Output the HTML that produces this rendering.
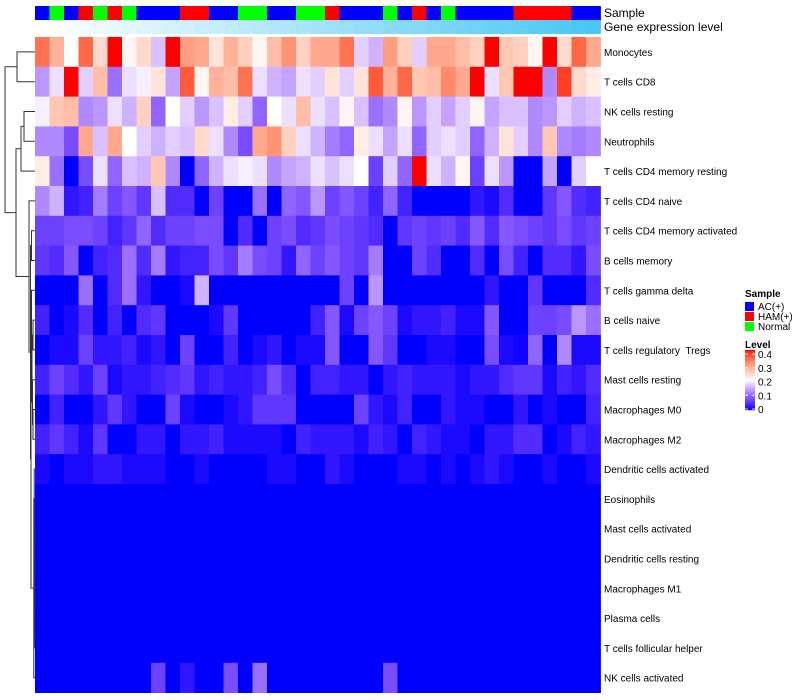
<!DOCTYPE html>
<html><head><meta charset="utf-8">
<style>
html,body{margin:0;padding:0;background:#fff;}
svg{display:block;font-family:"Liberation Sans",Arial,sans-serif;}
text{white-space:pre;}
</style></head>
<body>
<svg id="chart" width="800" height="700" viewBox="0 0 800 700"></svg>
<script>
const rowNames = ["Monocytes","T cells CD8","NK cells resting","Neutrophils","T cells CD4 memory resting","T cells CD4 naive","T cells CD4 memory activated","B cells memory","T cells gamma delta","B cells naive","T cells regulatory  Tregs","Mast cells resting","Macrophages M0","Macrophages M2","Dendritic cells activated","Eosinophils","Mast cells activated","Dendritic cells resting","Macrophages M1","Plasma cells","T cells follicular helper","NK cells activated"];
const sampleGroups = ["A","N","A","H","N","H","N","A","A","A","H","H","A","A","N","N","A","A","N","N","H","A","A","A","N","A","H","A","N","A","A","A","A","H","H","H","H","A","A"];
const z39 = new Array(39).fill(0);
const r0 = [0.34,0.28,0.2,0.35,0.24,0.4,0.21,0.24,0.16,0.4,0.3,0.29,0.23,0.28,0.25,0.21,0.27,0.31,0.25,0.29, 0.29,0.34,0.17,0.15,0.3,0.25,0.17,0.29,0.29,0.27,0.25,0.4,0.26,0.25,0.21,0.4,0.24,0.35,0.29];
const r1 = [0.13,0.18,0.4,0.17,0.27,0.1,0.18,0.19,0.23,0.14,0.36,0.21,0.28,0.27,0.34,0.18,0.15,0.14,0.18,0.17, 0.23,0.17,0.23,0.36,0.28,0.35,0.26,0.27,0.32,0.29,0.4,0.18,0.26,0.4,0.4,0.12,0.38,0.24,0.22];
const r2 = [0.19,0.26,0.27,0.12,0.13,0.18,0.15,0.25,0.09,0.2,0.17,0.13,0.16,0.22,0.17,0.09,0.2,0.18,0.27,0.18, 0.16,0.21,0.16,0.1,0.12,0.21,0.13,0.17,0.14,0.17,0.21,0.14,0.16,0.16,0.12,0.13,0.17,0.15,0.16];
const r3 = [0.12,0.12,0.07,0.29,0.16,0.29,0.2,0.17,0.15,0.17,0.16,0.24,0.18,0.12,0.07,0.29,0.31,0.25,0.18,0.15, 0.11,0.09,0.22,0.18,0.14,0.18,0.09,0.17,0.18,0.17,0.09,0.15,0.23,0.17,0.12,0.26,0.12,0.11,0.12];
const r4 = [0.22,0.1,0,0.07,0.18,0.09,0.16,0.15,0.26,0.12,0,0.09,0.15,0.18,0.19,0.18,0.12,0.14,0.15,0.18, 0.16,0.18,0.2,0.06,0.17,0.09,0.4,0.18,0.15,0.21,0.06,0.18,0.13,0,0,0.14,0,0.17,0.2];
const r5 = [0.12,0.15,0.02,0.03,0.11,0.06,0.08,0.05,0.16,0.04,0.04,0,0.06,0,0,0.1,0,0.09,0.08,0.13, 0.06,0.08,0.06,0.03,0.09,0.03,0,0,0,0,0.02,0.01,0.04,0,0,0.05,0.08,0.04,0.03];
const r6 = [0.06,0.06,0.07,0.07,0.06,0.03,0.05,0.09,0.04,0.06,0.06,0.07,0.07,0,0.04,0,0.06,0.07,0.04,0.05, 0.07,0.06,0.05,0.04,0,0.05,0.06,0.05,0.06,0.04,0.08,0.04,0.08,0.07,0.06,0.05,0.07,0.05,0.06];
const r7 = [0.05,0.04,0.08,0,0.03,0.04,0.1,0.04,0.11,0.02,0.03,0.03,0.07,0.05,0.11,0.07,0.06,0.02,0.09,0.06, 0.08,0.06,0.05,0.11,0,0,0.06,0.04,0,0,0.04,0,0.07,0.03,0,0.04,0.04,0.02,0.07];
const r8 = [0,0,0,0.1,0,0.04,0.1,0.02,0,0,0.01,0.15,0,0,0,0,0,0,0,0, 0,0.06,0,0.13,0,0,0,0,0,0,0,0.02,0,0,0.05,0,0,0,0.04];
const r9 = [0.03,0,0.01,0.04,0,0.03,0,0.04,0.05,0,0,0,0.01,0.05,0,0,0,0,0,0.03, 0.08,0.01,0.06,0.08,0.06,0.01,0.02,0.02,0.03,0.01,0.01,0.08,0,0,0.06,0.06,0.07,0.13,0.1];
const r10 = [0,0.01,0.01,0.06,0.02,0.02,0.03,0.01,0.02,0,0.06,0,0,0.03,0,0.01,0.02,0,0.01,0.01, 0.08,0,0,0.08,0.05,0,0,0.01,0.01,0,0,0.07,0.01,0.005,0.09,0,0.12,0.01,0.01];
const r11 = [0.03,0.06,0.04,0.02,0.06,0.01,0.02,0.02,0.03,0.04,0.05,0.02,0.03,0.02,0.02,0.03,0.07,0.04,0,0.03, 0.03,0.02,0.02,0,0.02,0.03,0.02,0.02,0.02,0.01,0.02,0.02,0.04,0.05,0.05,0.01,0.03,0.02,0.04];
const r12 = [0,0.03,0,0,0.02,0.05,0.02,0,0,0.06,0.01,0,0,0.01,0.02,0.05,0.05,0.05,0,0, 0,0,0.06,0.02,0.01,0.03,0,0,0.02,0.01,0.01,0,0,0.02,0,0.01,0,0,0.03];
const r13 = [0.03,0.05,0.03,0.01,0.05,0,0,0.02,0.02,0,0.02,0.02,0.03,0.01,0.01,0.01,0.01,0,0.03,0.02, 0.02,0.02,0.01,0.03,0.02,0,0.03,0.02,0.01,0.01,0,0.02,0.02,0.04,0.04,0,0.01,0.03,0.02];
const r14 = [0.01,0,0.01,0.01,0.02,0.02,0.01,0.01,0.01,0,0,0.01,0,0,0,0,0.01,0.01,0,0, 0.02,0.01,0,0,0,0.01,0.01,0,0.01,0,0.01,0.02,0.01,0,0,0.01,0,0,0.01];
const r21 = [0,0,0,0,0,0,0,0,0.06,0,0.02,0,0,0.07,0,0.1,0,0,0,0,0,0,0,0,0.07,0,0,0,0,0,0,0,0,0,0,0,0,0,0];
const values = [r0,r1,r2,r3,r4,r5,r6,r7,r8,r9,r10,r11,r12,r13,r14,z39,z39,z39,z39,z39,z39,r21];
const legendTicks = [0,0.1,0.2,0.3,0.4];

const NS="http://www.w3.org/2000/svg";
const svg=document.getElementById('chart');
function mk(tag,attrs,parent){const e=document.createElementNS(NS,tag);for(const k in attrs)e.setAttribute(k,attrs[k]);(parent||svg).appendChild(e);return e;}

function s2l(c){c/=255;return c<=0.04045?c/12.92:Math.pow((c+0.055)/1.055,2.4);}
function l2s(c){c=c<=0.0031308?12.92*c:1.055*Math.pow(c,1/2.4)-0.055;return Math.max(0,Math.min(255,Math.round(c*255)));}
function toLab(r,g,b){r=s2l(r);g=s2l(g);b=s2l(b);
 let X=(0.4124*r+0.3576*g+0.1805*b)/0.95047,Y=0.2126*r+0.7152*g+0.0722*b,Z=(0.0193*r+0.1192*g+0.9505*b)/1.08883;
 const f=t=>t>0.008856?Math.cbrt(t):7.787*t+16/116;
 return [116*f(Y)-16,500*(f(X)-f(Y)),200*(f(Y)-f(Z))];}
function fromLab(L,a,b){const fy=(L+16)/116,fx=fy+a/500,fz=fy-b/200;
 const fi=t=>t*t*t>0.008856?t*t*t:(t-16/116)/7.787;
 const X=fi(fx)*0.95047,Y=fi(fy),Z=fi(fz)*1.08883;
 const r=3.2406*X-1.5372*Y-0.4986*Z,g=-0.9689*X+1.8758*Y+0.0415*Z,bb=0.0557*X-0.2040*Y+1.0570*Z;
 return `rgb(${l2s(r)},${l2s(g)},${l2s(bb)})`;}
const LB=toLab(0,0,255),LW=toLab(255,255,255),LR=toLab(255,0,0);
function color(v){v=Math.max(0,Math.min(0.4,v));let a,b,t;
 if(v<=0.2){a=LB;b=LW;t=Math.pow(v/0.2,1.4);}else{a=LW;b=LR;t=(v-0.2)/0.2;}
 return fromLab(a[0]+(b[0]-a[0])*t,a[1]+(b[1]-a[1])*t,a[2]+(b[2]-a[2])*t);}

const x0=35,cw=14.5,y0=37,ch=29.8;
const xPos=j=>x0+j*cw, yPos=i=>y0+i*ch;
const grpCol={A:"#0000FF",H:"#FF0000",N:"#00FF00"};

sampleGroups.forEach((g,j)=>{
 const r=mk('rect',{x:xPos(j),y:6,width:cw+0.4,height:14,fill:grpCol[g]});
 
 
 const t=j/(sampleGroups.length-1);
 const c=`rgb(${Math.round(255-(255-72)*t)},${Math.round(255-(255-198)*t)},${Math.round(255-(255-244)*t)})`;
 const r2=mk('rect',{x:xPos(j),y:20,width:cw+0.4,height:14,fill:c});
 
 
});
let t1=mk('text',{x:604,y:17,'font-size':12,fill:'#000'});t1.textContent='Sample';

let t2=mk('text',{x:604,y:31,'font-size':12,fill:'#000'});t2.textContent='Gene expression level';


values.forEach((row,i)=>{
 row.forEach((v,j)=>{
  const r=mk('rect',{x:xPos(j),y:yPos(i),width:cw+0.4,height:ch+0.4,fill:color(v)});
  
  
 });
 const t=mk('text',{x:604,y:yPos(i)+ch/2+4,'font-size':10,fill:'#000'});
 t.textContent=rowNames[i];
 
 
});

const yc=i=>yPos(i)+ch/2;
const dg=mk('g',{stroke:'#333',fill:'none','stroke-width':1});

function leaf(i){return {y:yc(i),x:35};}
function join(a,b,x){mk('path',{d:`M${a.x},${a.y}H${x}V${b.y}H${b.x}`},dg);return {y:(a.y+b.y)/2,x:x};}
const mc=join(leaf(0),leaf(1),17);
const nn=join(leaf(2),leaf(3),24);
const A=join(nn,leaf(4),21);
let z=join(leaf(19),leaf(20),34.6);
for(let i=18;i>=15;i--) z=join(leaf(i),z,34.6);
let lw=join(leaf(14),z,34.2);
lw=join(leaf(21),lw,33.8);
const m2=join(leaf(12),leaf(13),33);
let m=join(leaf(11),m2,32.5);
const tb=join(leaf(9),leaf(10),33);
m=join(tb,m,32);
m=join(leaf(8),m,31.5);
m=join(m,lw,31);
const l1=join(leaf(6),leaf(7),31.5);
const C=join(l1,m,30.5);
const B=join(leaf(5),C,29);
const R=join(A,B,16);
join(mc,R,5);

const lg=mk('g',{});
let lt=mk('text',{x:745,y:297,'font-size':10,'font-weight':'bold'},lg);lt.textContent='Sample';
[["A","AC(+)"],["H","HAM(+)"],["N","Normal"]].forEach((p,k)=>{
 const r=mk('rect',{x:745,y:302+k*10,width:9,height:9,fill:grpCol[p[0]]},lg);
 
 const t=mk('text',{x:758,y:310+k*10,'font-size':10},lg);t.textContent=p[1];
 
});
let lt2=mk('text',{x:745,y:348,'font-size':10,'font-weight':'bold'},lg);lt2.textContent='Level';
for(let k=0;k<60;k++){
 const v=0.4-0.4*k/59;
 mk('rect',{x:745,y:350+k,width:10,height:1.2,fill:color(v)},lg);
}
legendTicks.forEach(v=>{
 const y=409-v/0.4*55;
 mk('line',{x1:745,x2:748,y1:y,y2:y,stroke:'#fff','stroke-width':0.8},lg);
 mk('line',{x1:752,x2:755,y1:y,y2:y,stroke:'#fff','stroke-width':0.8},lg);
 const t=mk('text',{x:758,y:y+4,'font-size':10},lg);t.textContent=String(v);
 
});
</script>
</body></html>
